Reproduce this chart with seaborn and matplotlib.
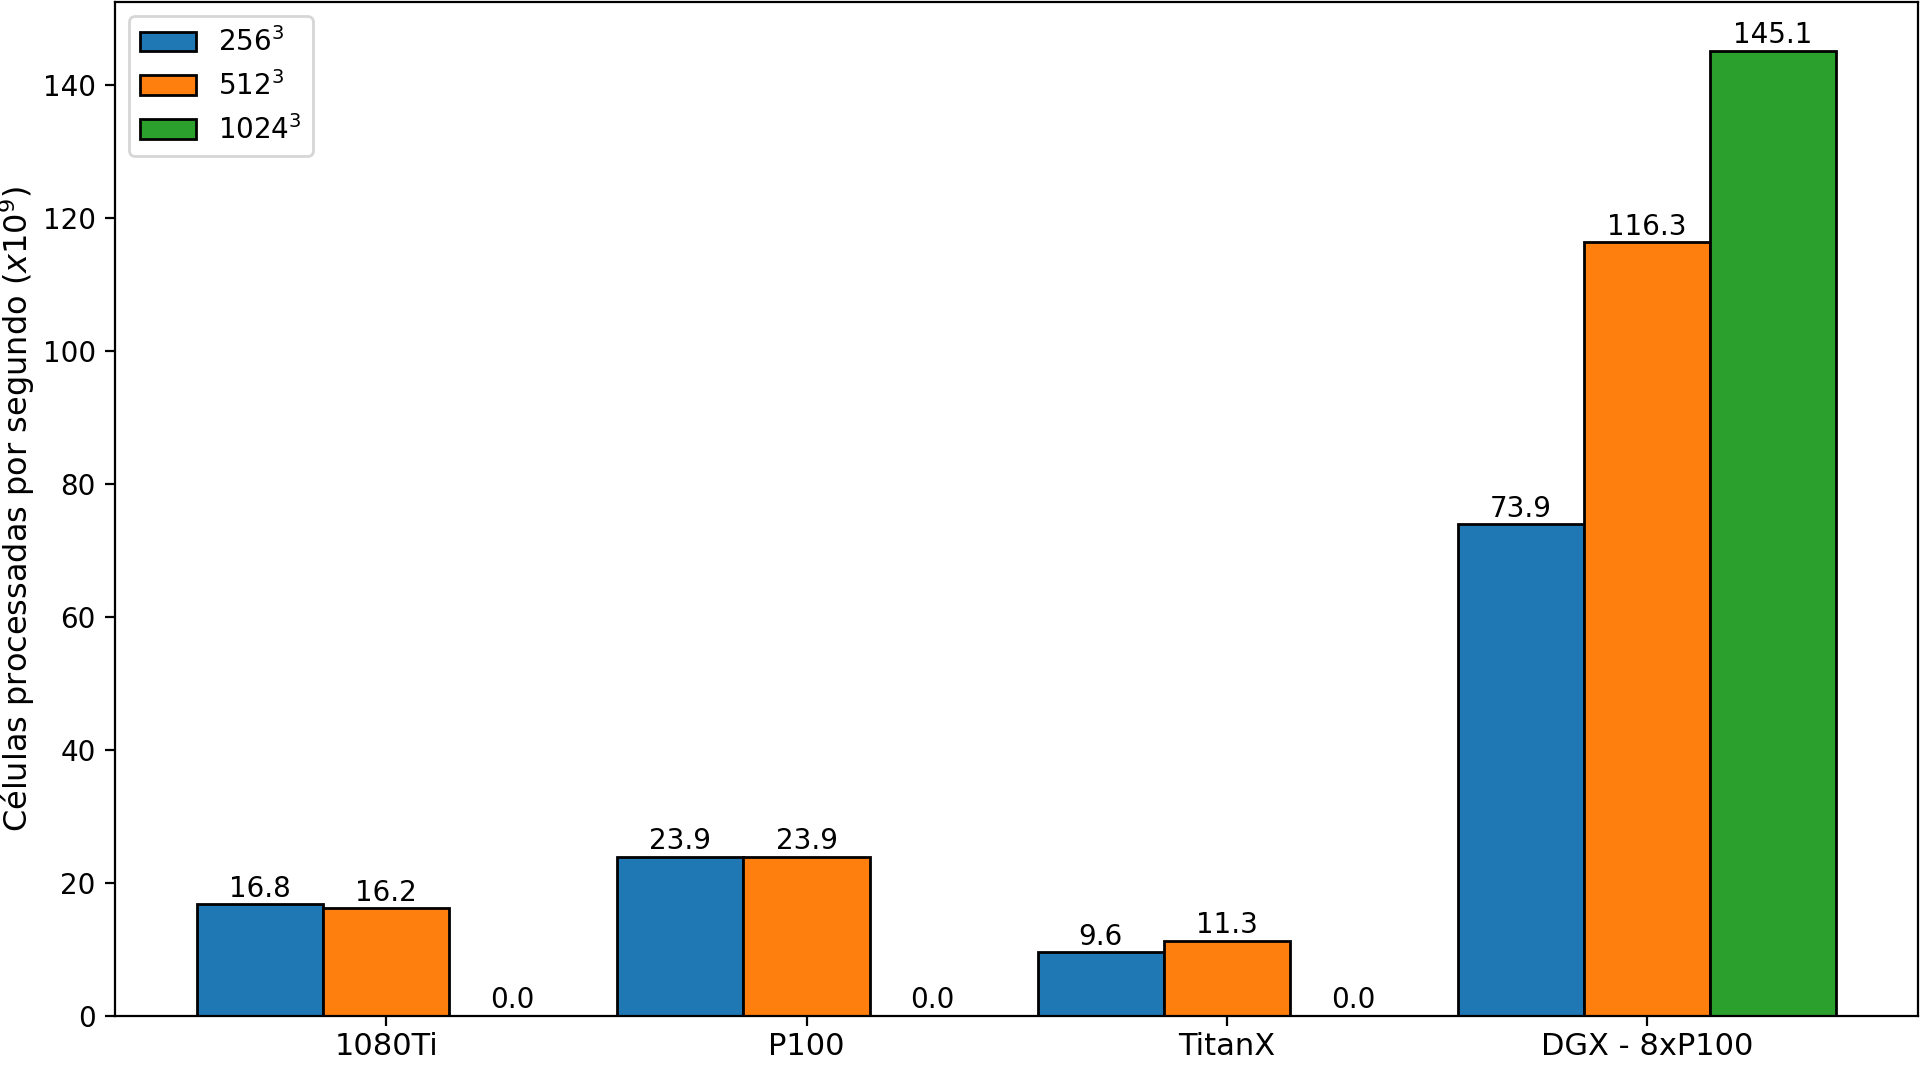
import pandas as pd
import matplotlib
matplotlib.use('Agg')
import matplotlib.pyplot as plt
import seaborn as sns

gpus = ['1080Ti', 'P100', 'TitanX', 'DGX - 8xP100']
sizes = ['$256^3$', '$512^3$', '$1024^3$']
vals_256 = [16.8, 23.9, 9.6, 73.9]
vals_512 = [16.2, 23.9, 11.3, 116.3]
vals_1024 = [0.0, 0.0, 0.0, 145.1]

df = pd.DataFrame({
    'gpu': gpus * 3,
    'size': [sizes[0]] * 4 + [sizes[1]] * 4 + [sizes[2]] * 4,
    'cells': vals_256 + vals_512 + vals_1024,
})

plt.rcParams['font.size'] = 10
fig = plt.figure(figsize=(9.6, 5.335), dpi=200)
ax = fig.add_axes([0.060, 0.048, 0.939, 0.950])

sns.barplot(data=df, x='gpu', y='cells', hue='size', hue_order=sizes,
            order=gpus, palette='tab10', saturation=1, edgecolor='black',
            linewidth=1, width=0.9, ax=ax)

for c in ax.containers:
    ax.bar_label(c, fmt='%.1f', padding=0.5, fontsize=10)

ax.set_xlim(-0.645, 3.645)
ax.set_ylim(0, 152.4)
ax.set_xlabel('')
ax.set_ylabel('Células processadas por segundo ($x10^9$)', fontsize=11.5,
              labelpad=2)
ax.tick_params(axis='x', labelsize=11, pad=2.5)
ax.legend(loc='upper left', fontsize=10)
for s in ax.spines.values():
    s.set_visible(True)

fig.savefig('out.png', dpi=200)
